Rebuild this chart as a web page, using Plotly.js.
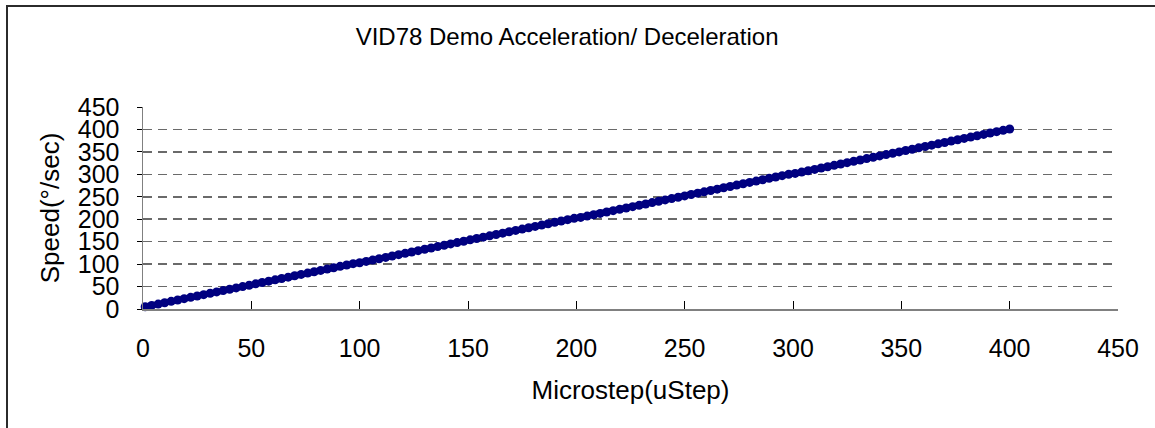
<!DOCTYPE html>
<html>
<head>
<meta charset="utf-8">
<script src="https://cdn.plot.ly/plotly-3.0.1.min.js"></script>
<style>
html,body{margin:0;padding:0;background:#fff;}
#wrap{position:relative;width:1155px;height:428px;overflow:hidden;}
#chart{position:absolute;left:0;top:0;width:1155px;height:428px;}
#frame{position:absolute;left:6px;top:5px;width:1200px;height:500px;border-left:2px solid #2b2b2b;border-top:2px solid #2b2b2b;pointer-events:none;}
</style>
</head>
<body>
<div id="wrap"><div id="chart"></div><div id="frame"></div></div>
<script>
const chartTitle = "VID78 Demo Acceleration/ Deceleration";
const xTitle = "Microstep(uStep)";
const yTitle = "Speed(°/sec)";
const microstep = [1,4,7,10,13,16,19,22,25,28,31,34,37,40,43,46,49,52,55,58,61,64,67,70,73,76,79,82,85,88,91,94,97,
100,103,106,109,112,115,118,121,124,127,130,133,136,139,142,145,148,151,154,157,160,163,166,169,172,175,178,181,184,187,190,193,196,199,
202,205,208,211,214,217,220,223,226,229,232,235,238,241,244,247,250,253,256,259,262,265,268,271,274,277,280,283,286,289,292,295,298,
301,304,307,310,313,316,319,322,325,328,331,334,337,340,343,346,349,352,355,358,361,364,367,370,373,376,379,382,385,388,391,394,397,400];
const speed = [5,8,11,14,17,20,23,26,29,32,35,38,41,44,47,50,53,56,59,62,65,68,71,74,77,80,83,86,89,92,95,98,101,
103,106,109,112,115,118,121,124,127,130,133,136,139,142,145,148,151,154,157,160,163,166,169,172,175,178,181,184,187,190,193,196,199,202,
204,207,210,213,216,219,222,225,228,231,234,237,240,243,246,249,252,255,258,261,264,267,270,273,276,279,282,285,288,291,294,297,300,
302,305,308,311,314,317,320,323,326,329,332,335,338,341,344,347,350,353,356,359,362,365,368,371,374,377,380,383,386,389,392,395,398,401];
const xTicks = [0,50,100,150,200,250,300,350,400,450];
const yTicks = [0,50,100,150,200,250,300,350,400,450];

const font = "Liberation Sans, Arial, sans-serif";
Plotly.newPlot("chart", [{
  x: microstep, y: speed, type: "scatter", mode: "lines+markers",
  line: {color: "#000080", width: 6},
  marker: {color: "#000080", size: 9},
  cliponaxis: false, showlegend: false, hoverinfo: "skip"
}], {
  width: 1155, height: 428,
  margin: {l: 143, r: 37, t: 107, b: 119, pad: 0},
  paper_bgcolor: "rgba(0,0,0,0)", plot_bgcolor: "rgba(0,0,0,0)",
  font: {family: font, color: "#000"},
  title: {text: chartTitle, font: {size: 24, family: font, color: "#000"}, x: 0.491, xref: "container", xanchor: "center", y: 0.915, yref: "container", yanchor: "middle"},
  xaxis: {
    range: [0, 450], tickvals: xTicks, ticktext: xTicks.map(String),
    showgrid: false, zeroline: false, showline: true, linecolor: "#808080", linewidth: 1.5,
    ticks: "inside", ticklen: 8, tickcolor: "#000", tickwidth: 1,
    tickfont: {size: 25, family: font}, ticklabelstandoff: 16,
    title: {text: xTitle, font: {size: 26, family: font}, standoff: 20}
  },
  yaxis: {
    range: [0, 450], tickvals: yTicks, ticktext: yTicks.map(String),
    showgrid: true, gridcolor: "#6a6a6a", gridwidth: 1.5, griddash: "9px,6px",
    zeroline: false, showline: true, linecolor: "#808080", linewidth: 1.5,
    ticks: "outside", ticklen: 5, tickcolor: "#000", tickwidth: 1,
    tickfont: {size: 25, family: font}, ticklabelstandoff: 12,
    title: {text: yTitle, font: {size: 26, family: font}, standoff: 10}
  }
}, {displayModeBar: false, staticPlot: true});
</script>
</body>
</html>
